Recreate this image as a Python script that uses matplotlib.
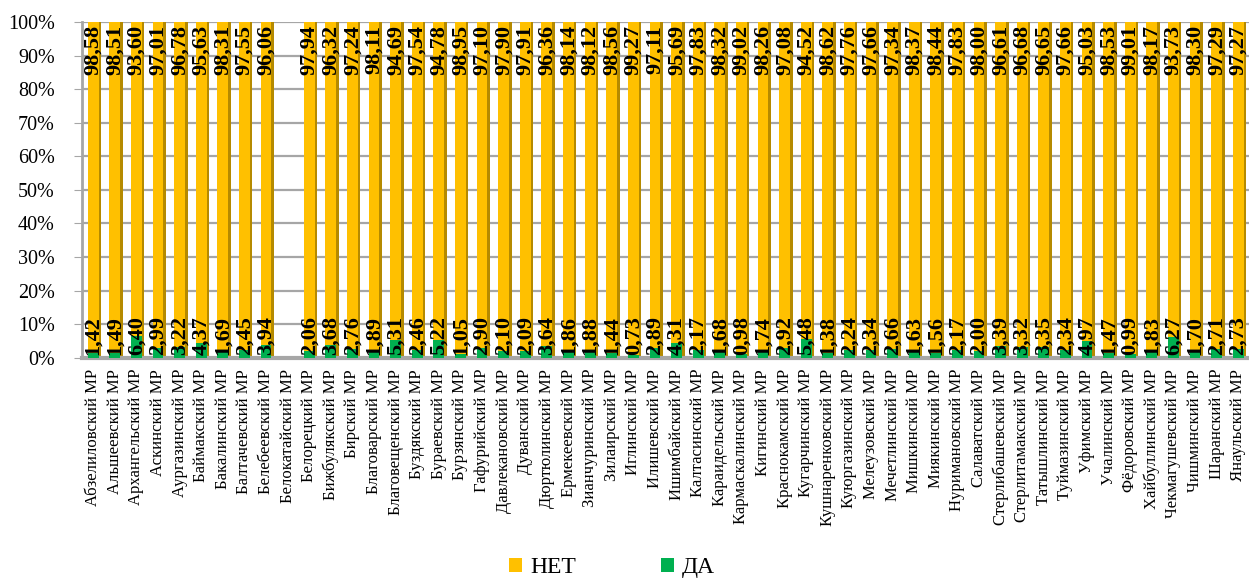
import numpy as np
import matplotlib.pyplot as plt

# Районы (муниципальные районы)
districts = [
    'Абзелиловский МР', 'Альшеевский МР', 'Архангельский МР', 'Аскинский МР',
    'Аургазинский МР', 'Баймакский МР', 'Бакалинский МР', 'Балтачевский МР',
    'Белебеевский МР', 'Белокатайский МР', 'Белорецкий МР', 'Бижбулякский МР',
    'Бирский МР', 'Благоварский МР', 'Благовещенский МР', 'Буздякский МР',
    'Бураевский МР', 'Бурзянский МР', 'Гафурийский МР', 'Давлекановский МР',
    'Дуванский МР', 'Дюртюлинский МР', 'Ермекеевский МР', 'Зианчуринский МР',
    'Зилаирский МР', 'Иглинский МР', 'Илишевский МР', 'Ишимбайский МР',
    'Калтасинский МР', 'Караидельский МР', 'Кармаскалинский МР', 'Кигинский МР',
    'Краснокамский МР', 'Кугарчинский МР', 'Кушнаренковский МР', 'Куюргазинский МР',
    'Мелеузовский МР', 'Мечетлинский МР', 'Мишкинский МР', 'Миякинский МР',
    'Нуримановский МР', 'Салаватский МР', 'Стерлибашевский МР', 'Стерлитамакский МР',
    'Татышлинский МР', 'Туймазинский МР', 'Уфимский МР', 'Учалинский МР',
    'Фёдоровский МР', 'Хайбуллинский МР', 'Чекмагушевский МР', 'Чишминский МР',
    'Шаранский МР', 'Янаульский МР',
]

# Доля ответов "ДА", %
da = [1.42, 1.49, 6.40, 2.99, 3.22, 4.37, 1.69, 2.45, 3.94, np.nan,
      2.06, 3.68, 2.76, 1.89, 5.31, 2.46, 5.22, 1.05, 2.90, 2.10,
      2.09, 3.64, 1.86, 1.88, 1.44, 0.73, 2.89, 4.31, 2.17, 1.68,
      0.98, 1.74, 2.92, 5.48, 1.38, 2.24, 2.34, 2.66, 1.63, 1.56,
      2.17, 2.00, 3.39, 3.32, 3.35, 2.34, 4.97, 1.47, 0.99, 1.83,
      6.27, 1.70, 2.71, 2.73]

# Доля ответов "НЕТ", %
net = [98.58, 98.51, 93.60, 97.01, 96.78, 95.63, 98.31, 97.55, 96.06, np.nan,
       97.94, 96.32, 97.24, 98.11, 94.69, 97.54, 94.78, 98.95, 97.10, 97.90,
       97.91, 96.36, 98.14, 98.12, 98.56, 99.27, 97.11, 95.69, 97.83, 98.32,
       99.02, 98.26, 97.08, 94.52, 98.62, 97.76, 97.66, 97.34, 98.37, 98.44,
       97.83, 98.00, 96.61, 96.68, 96.65, 97.66, 95.03, 98.53, 99.01, 98.17,
       93.73, 98.30, 97.29, 97.27]

da = np.array(da)
net = np.array(net)
# нормируем на 100% (нормированная диаграмма с накоплением)
total = da + net
da_pct = da / total * 100
net_pct = net / total * 100

plt.rcParams['font.family'] = ['Liberation Serif', 'DejaVu Serif']

fig = plt.figure(figsize=(12.49, 5.78), dpi=100)
ax = fig.add_axes([0.066, 0.381, 0.934, 0.581])

x = np.arange(len(districts))
w = 0.5
yellow = '#FFC000'
green = '#00B050'

# "тень" столбцов (имитация объёма)
ax.bar(x + 0.12, np.nan_to_num(da_pct + net_pct), width=w, color='#B58A00', zorder=2)
ax.bar(x, np.nan_to_num(da_pct), width=w, color=green, zorder=3, label='ДА')
ax.bar(x, np.nan_to_num(net_pct), width=w, bottom=np.nan_to_num(da_pct),
       color=yellow, zorder=3, label='НЕТ')

for i in range(len(x)):
    if np.isnan(da[i]):
        continue
    ax.text(x[i], 99.0, f'{net[i]:.2f}'.replace('.', ','), rotation=90,
            ha='center', va='top', fontsize=16, fontweight='bold', zorder=5)
    ax.text(x[i], 0.9, f'{da[i]:.2f}'.replace('.', ','), rotation=90,
            ha='center', va='bottom', fontsize=16, fontweight='bold', zorder=5)

ax.set_xlim(-0.5, len(x) - 0.5)
ax.set_ylim(0, 100)
ax.set_yticks(np.arange(0, 101, 10))
ax.set_yticklabels([f'{v}%' for v in range(0, 101, 10)], fontsize=14.5)
ax.yaxis.grid(True, color='#A6A6A6', linewidth=1.6, zorder=0)
ax.set_axisbelow(True)

ax.set_xticks(x)
ax.set_xticklabels(districts, rotation=90, fontsize=12)
ax.tick_params(axis='x', length=0, pad=8)
ax.tick_params(axis='y', length=6, color='#A6A6A6', pad=14)
for s in ['top', 'right']:
    ax.spines[s].set_visible(False)
ax.spines['left'].set_color('#A6A6A6')
ax.spines['left'].set_linewidth(2)
ax.spines['bottom'].set_color('#A6A6A6')
ax.spines['bottom'].set_linewidth(3)

handles, labels = ax.get_legend_handles_labels()
fig.legend(handles[::-1], labels[::-1], loc='center', bbox_to_anchor=(0.49, 0.018),
           ncol=2, frameon=False, fontsize=17, handlelength=0.55, handleheight=0.55,
           columnspacing=3.6, handletextpad=0.35)

plt.savefig('out.png', dpi=100)
